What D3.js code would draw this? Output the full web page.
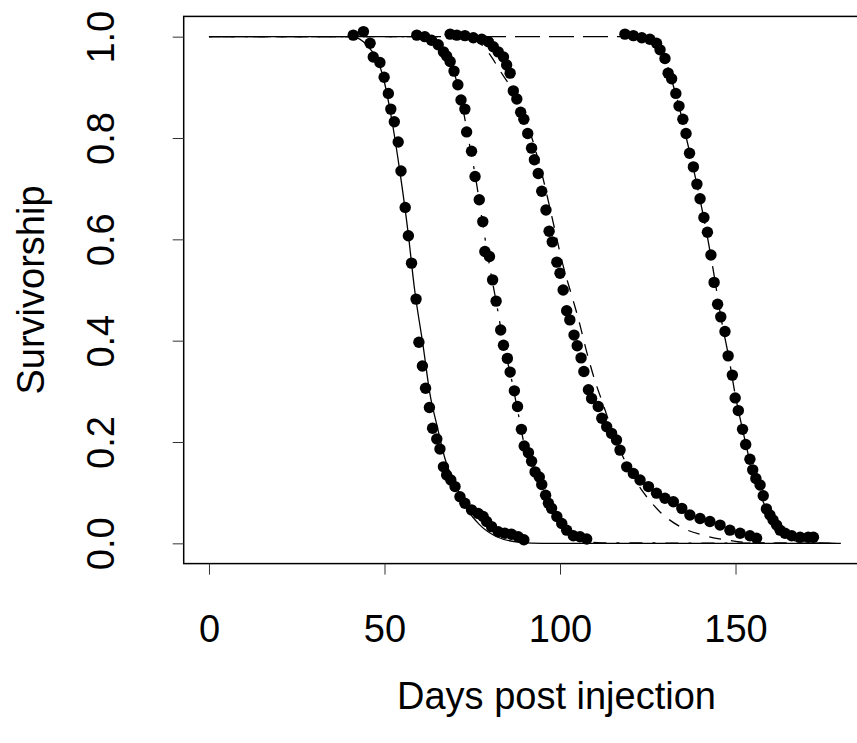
<!DOCTYPE html>
<html>
<head>
<meta charset="utf-8">
<script src="https://cdn.jsdelivr.net/npm/d3@7"></script>
<style>
  body { margin: 0; background: #fff; }
  svg { display: block; }
  text { font-family: "Liberation Sans", Arial, sans-serif; fill: #000; }
</style>
</head>
<body>
<div id="surv_div"></div>
<script>
// ---- observed survivorship (points), one pair of arrays per group ----
const days1 = [41.1, 44, 45.9, 46.8, 48.7, 49.9, 51.1, 51.8, 52.8, 53.9, 54.7, 55.9, 56.8, 57.7, 59.0, 59.8, 60.8, 61.7, 62.8, 63.7, 64.9, 65.8, 66.8, 67.7, 68.9, 70.1, 71.5, 72.9, 74.8, 76.7, 78.1, 79.1, 80.5, 82.4, 84.3, 86.2, 88.1, 89.7]
const surv1 = [1.003, 1.01, 0.987, 0.96, 0.949, 0.92, 0.888, 0.857, 0.832, 0.792, 0.735, 0.663, 0.607, 0.553, 0.482, 0.397, 0.35, 0.306, 0.268, 0.227, 0.206, 0.186, 0.151, 0.135, 0.125, 0.112, 0.092, 0.079, 0.066, 0.059, 0.053, 0.043, 0.033, 0.023, 0.020, 0.018, 0.013, 0.007]

const days2 = [59.2, 61.5, 63.4, 65.3, 66.8, 67.7, 68.7, 69.8, 70.9, 71.8, 72.9, 73.4, 74.8, 75.8, 77.0, 78.0, 78.6, 79.9, 80.8, 81.8, 83.1, 83.9, 85.0, 85.8, 87.0, 87.9, 89.0, 89.8, 91.0, 91.9, 92.9, 94.1, 94.8, 95.9, 96.7, 97.6, 99.1, 100.5, 101.9, 103.8, 105.7, 107.6]
const surv2 = [1.003, 1.0, 0.993, 0.984, 0.97, 0.962, 0.951, 0.932, 0.905, 0.875, 0.857, 0.812, 0.774, 0.724, 0.678, 0.635, 0.576, 0.566, 0.52, 0.478, 0.421, 0.391, 0.365, 0.338, 0.301, 0.27, 0.225, 0.192, 0.179, 0.162, 0.141, 0.131, 0.116, 0.095, 0.079, 0.069, 0.053, 0.039, 0.026, 0.015, 0.013, 0.0085]

const days3 = [68.7, 70.6, 72.9, 75.3, 77.7, 79.6, 81.0, 82.4, 83.9, 84.8, 85.8, 86.7, 87.7, 88.8, 89.7, 90.8, 91.9, 92.7, 93.8, 94.8, 96.0, 96.9, 97.8, 99.1, 100.0, 100.9, 101.9, 102.8, 104.0, 104.9, 106.0, 106.8, 108.1, 109.0, 110.9, 111.9, 113.3, 114.7, 116.1, 117.1, 119.0, 120.9, 122.8, 125.2, 127.5, 129.9, 132.3, 134.7, 137.0, 139.9, 142.7, 145.6, 148.4, 151.3, 154.1, 156.0]
const surv3 = [1.005, 1.003, 1.002, 0.998, 0.995, 0.99, 0.98, 0.97, 0.96, 0.944, 0.928, 0.893, 0.877, 0.851, 0.837, 0.809, 0.78, 0.757, 0.73, 0.695, 0.658, 0.616, 0.595, 0.555, 0.533, 0.5, 0.459, 0.441, 0.411, 0.39, 0.366, 0.339, 0.303, 0.286, 0.27, 0.247, 0.23, 0.217, 0.204, 0.184, 0.151, 0.138, 0.125, 0.112, 0.099, 0.089, 0.082, 0.069, 0.056, 0.049, 0.043, 0.036, 0.026, 0.02, 0.015, 0.01]

const days4 = [118.5, 120.9, 123.3, 125.6, 127.5, 128.5, 129.9, 130.8, 131.8, 133.0, 133.9, 135.0, 135.9, 136.9, 138.0, 139.0, 139.9, 141.0, 142.0, 143.0, 143.9, 144.9, 145.8, 147.0, 147.9, 149.1, 149.9, 150.8, 152.0, 152.9, 154.1, 154.9, 155.8, 157.0, 157.9, 158.8, 159.8, 160.7, 161.7, 162.7, 164.1, 166.0, 168.4, 170.7, 172.2]
const surv4 = [1.005, 1.002, 0.998, 0.995, 0.987, 0.974, 0.957, 0.928, 0.917, 0.888, 0.863, 0.837, 0.809, 0.77, 0.743, 0.709, 0.68, 0.643, 0.614, 0.569, 0.515, 0.472, 0.447, 0.418, 0.37, 0.332, 0.287, 0.262, 0.225, 0.195, 0.166, 0.145, 0.128, 0.115, 0.094, 0.068, 0.056, 0.046, 0.036, 0.026, 0.02, 0.015, 0.012, 0.012, 0.012]

// ---- fitted curves ----
const fitDays1 = [0, 40, 42, 44, 46, 47.8, 49.7, 52, 54.4, 56.8, 58.5, 61, 63, 64.9, 67.2, 70.6, 73.4, 77.2, 82, 88.6, 95, 180]
const fitSurv1 = [1, 1, 0.998, 0.99, 0.975, 0.957, 0.918, 0.839, 0.733, 0.609, 0.505, 0.39, 0.293, 0.234, 0.168, 0.109, 0.069, 0.036, 0.013, 0.002, 0, 0]

const fitDays2 = [0, 62, 64, 66, 68, 70, 72, 74, 76, 78, 80, 82, 84, 86, 88, 90, 92, 94, 96, 98, 100, 102, 104, 107, 112, 180]
const fitSurv2 = [1, 1, 0.992, 0.978, 0.955, 0.925, 0.87, 0.795, 0.72, 0.63, 0.545, 0.47, 0.39, 0.33, 0.26, 0.19, 0.16, 0.125, 0.095, 0.065, 0.042, 0.025, 0.013, 0.005, 0.001, 0]

const fitDays3 = [0, 72, 75, 77.7, 80, 82.9, 86, 89, 92, 95, 98, 101, 103.3, 105.2, 107.6, 110, 112, 115, 118, 120.5, 123.3, 128.5, 134.2, 140.8, 147.5, 155, 180]
const fitSurv3 = [1, 1, 0.995, 0.984, 0.965, 0.933, 0.9, 0.86, 0.8, 0.725, 0.635, 0.545, 0.49, 0.444, 0.378, 0.32, 0.28, 0.22, 0.17, 0.135, 0.105, 0.062, 0.033, 0.016, 0.0065, 0.001, 0]

const fitDays4 = [0, 124, 126, 128, 130, 132, 134, 136, 138, 140, 142, 144, 146, 148, 150, 152, 154, 156, 158, 160, 163, 167, 172, 180]
const fitSurv4 = [1, 1, 0.995, 0.98, 0.955, 0.91, 0.86, 0.8, 0.74, 0.675, 0.605, 0.525, 0.44, 0.37, 0.29, 0.225, 0.165, 0.12, 0.08, 0.05, 0.022, 0.005, 0.0005, 0]

const xTicks = [0, 50, 100, 150]
const yTicks = [0, 0.2, 0.4, 0.6, 0.8, 1.0]

// set the dimensions and margins of the plot (box runs off the right edge, as in the original)
const margin = {top: 16.4, left: 183.7},
  width = 682.4,
  height = 547.2;

const svg = d3.select("#surv_div")
  .append("svg")
  .attr("width", 857)
  .attr("height", 743)
  .append("g")
  .attr("transform", `translate(${margin.left},${margin.top})`);

const x = d3.scaleLinear()
  .domain([-7.2, 187.2])
  .range([0, width]);

const y = d3.scaleLinear()
  .domain([-0.04, 1.04])
  .range([height, 0]);

// box
svg.append("rect")
  .attr("x", 0).attr("y", 0)
  .attr("width", width).attr("height", height)
  .attr("fill", "none")
  .attr("stroke", "#000")
  .attr("stroke-width", 1.5);

// X axis
const xAxis = svg.append("g")
  .attr("transform", `translate(0, ${height})`)
  .call(d3.axisBottom(x).tickValues(xTicks).tickSize(11).tickPadding(40));
xAxis.select(".domain").remove();
xAxis.selectAll("text")
  .attr("font-size", 38)
  .attr("font-family", "Liberation Sans, Arial, sans-serif");

// Y axis
const yAxis = svg.append("g")
  .call(d3.axisLeft(y).tickValues(yTicks).tickSize(11).tickFormat(d3.format(".1f")));
yAxis.select(".domain").remove();
yAxis.selectAll("text")
  .attr("font-size", 38)
  .attr("font-family", "Liberation Sans, Arial, sans-serif")
  .attr("text-anchor", "middle")
  .attr("dy", 0)
  .attr("x", 0)
  .attr("transform", "translate(-70,0) rotate(-90)");
svg.selectAll(".tick line").attr("stroke", "#333");

// axis titles
svg.append("text")
  .attr("text-anchor", "middle")
  .attr("font-size", 38)
  .attr("x", x(99))
  .attr("y", height + 145)
  .text("Days post injection");

svg.append("text")
  .attr("text-anchor", "middle")
  .attr("font-size", 38)
  .attr("transform", "rotate(-90)")
  .attr("x", -height / 2)
  .attr("y", -140)
  .text("Survivorship");

// fitted curves
const fits = [
  {d: fitDays1, s: fitSurv1, dash: null},
  {d: fitDays2, s: fitSurv2, dash: "3,10,13,10"},
  {d: fitDays3, s: fitSurv3, dash: "12,10"},
  {d: fitDays4, s: fitSurv4, dash: "25,9"}
];

const line = d3.line()
  .x(function(p) { return x(p[0]) })
  .y(function(p) { return y(p[1]) })
  .curve(d3.curveMonotoneX);

fits.forEach(function(f) {
  svg.append("path")
    .datum(d3.zip(f.d, f.s))
    .attr("fill", "none")
    .attr("stroke", "#000")
    .attr("stroke-width", 1.3)
    .attr("stroke-dasharray", f.dash)
    .attr("d", line);
});

// points
const groups = [[days1, surv1], [days2, surv2], [days3, surv3], [days4, surv4]];
groups.forEach(function(g) {
  svg.append("g")
    .selectAll("circle")
    .data(d3.zip(g[0], g[1]))
    .join("circle")
      .attr("cx", function(p) { return x(p[0]) })
      .attr("cy", function(p) { return y(p[1]) })
      .attr("r", 5.7)
      .style("fill", "#000");
});
</script>
</body>
</html>
